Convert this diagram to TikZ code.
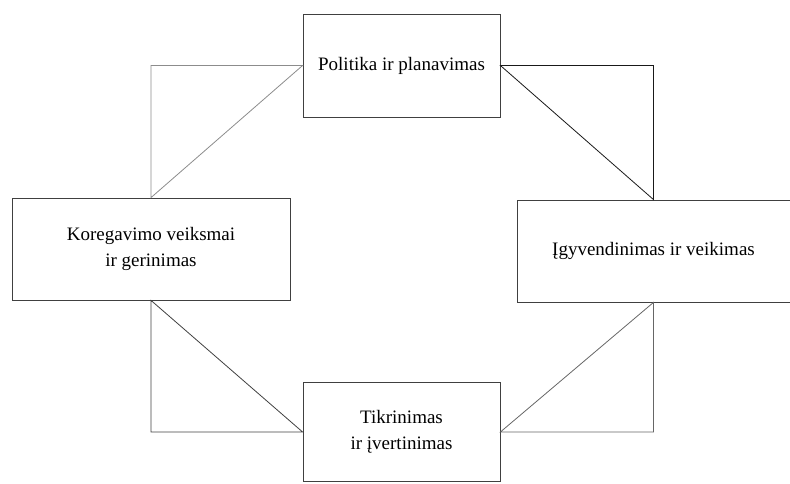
\documentclass[tikz,border=0pt]{standalone}
\usepackage{fontspec}
\setmainfont{Liberation Serif}
\usepackage{tikz}
\usetikzlibrary{calc}

\tikzset{
    stage/.style={draw=black!75, line width=0.8pt, fill=white, align=center,
        font=\fontsize{19}{26}\selectfont},
    link/.style={line width=0.8pt}
}

\begin{document}
\begin{tikzpicture}[x=1pt, y=1pt]
    \useasboundingbox (0,0) rectangle (790,484);

    \node[stage, minimum width=197, minimum height=103] (plan) at (401.5,418.5) {Politika ir planavimas};
    \node[stage, minimum width=273, minimum height=102] (veik) at (653.5,233) {Įgyvendinimas ir veikimas};
    \node[stage, minimum width=197, minimum height=99] (tikr) at (401.5,52) {Tikrinimas\\ir įvertinimas};
    \node[stage, minimum width=278, minimum height=102] (kor) at (151,235) {Koregavimo veiksmai\\ir gerinimas};

    \draw[link, black!45] (plan.west) -- (kor.north |- plan.west) -- (kor.north) -- cycle;
    \draw[link, black!90] (plan.east) -- (veik.north |- plan.east) -- (veik.north) -- cycle;
    \draw[link, black!60] (veik.south) -- (veik.south |- tikr.east) -- (tikr.east) -- cycle;
    \draw[link, black!75] (kor.south) -- (kor.south |- tikr.west) -- (tikr.west) -- cycle;
\end{tikzpicture}
\end{document}
